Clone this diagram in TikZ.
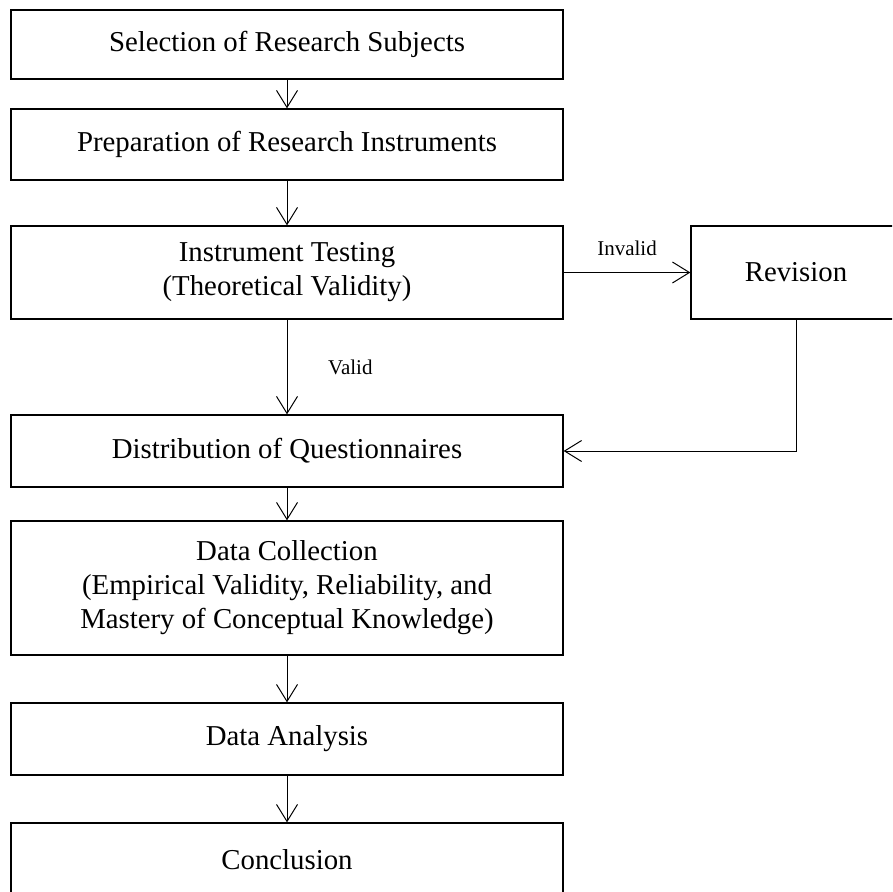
\documentclass[tikz,border=0pt]{standalone}
\usepackage{fontspec}
\setmainfont{Liberation Serif}
\usetikzlibrary{arrows.meta}

\begin{document}
\begin{tikzpicture}[x=0.5pt,y=-0.5pt,
  box/.style={draw, line width=0.65pt, minimum width=276pt, align=center,
    inner sep=0pt, font=\fontsize{14.4}{17}\selectfont},
  flow/.style={-{Straight Barb[length=8.5pt,width=10.5pt]}, line width=0.5pt},
  lbl/.style={font=\fontsize{10.5}{12}\selectfont}]

  % Fix the page to the size of the figure
  \useasboundingbox (0,0) rectangle (892,892);
  \clip (0,0) rectangle (892,892);

  % Main column of steps
  \node[box, minimum height=34.5pt] (select) at (287,44.5) {Selection of Research Subjects};
  \node[box, minimum height=35.5pt] (prep) at (287,144.5) {Preparation of Research Instruments};
  \node[box, minimum height=46.5pt] (test) at (287,272.5) {Instrument Testing\\(Theoretical Validity)};
  \node[box, minimum height=36pt] (distr) at (287,451) {Distribution of Questionnaires};
  \node[box, minimum height=67pt] (collect) at (287,588) {Data Collection\\(Empirical Validity, Reliability, and\\Mastery of Conceptual Knowledge)};
  \node[box, minimum height=36pt] (analysis) at (287,739) {Data Analysis};
  \node[box, minimum height=37pt] (concl) at (287,860) {Conclusion};

  % Side box, cut by the right edge
  \node[box, minimum width=105pt, minimum height=46.5pt] (revise) at (796,272.5) {Revision};

  % Arrows down the column
  \draw[flow] (select) -- (prep);
  \draw[flow] (prep) -- (test);
  \draw[flow] (test) -- node[lbl, right=17pt] (valid) {Valid} (distr);
  \draw[flow] (distr) -- (collect);
  \draw[flow] (collect) -- (analysis);
  \draw[flow] (analysis) -- (concl);

  % Loop through the revision
  \draw[flow] (test) -- node[lbl, above=5pt] (invalid) {Invalid} (revise);
  \draw[flow] (revise.south) |- (distr.east);

\end{tikzpicture}
\end{document}
